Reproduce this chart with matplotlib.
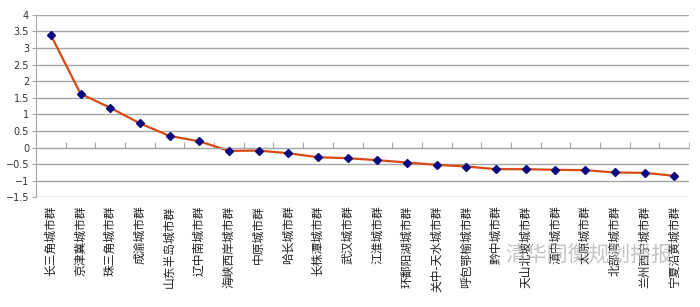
import numpy as np
import matplotlib.pyplot as plt

plt.rcParams['font.family'] = ['Noto Sans CJK SC', 'DejaVu Sans']

# 城市群
clusters = ['长三角城市群', '京津冀城市群', '珠三角城市群', '成渝城市群', '山东半岛城市群',
            '辽中南城市群', '海峡西岸城市群', '中原城市群', '哈长城市群', '长株潭城市群',
            '武汉城市群', '江淮城市群', '环鄱阳湖城市群', '关中-天水城市群', '呼包鄂榆城市群',
            '黔中城市群', '天山北坡城市群', '滇中城市群', '太原城市群', '北部湾城市群',
            '兰州西宁城市群', '宁夏沿黄城市群']
scores = [3.39, 1.62, 1.20, 0.73, 0.35, 0.19, -0.10, -0.09, -0.17, -0.29, -0.32,
          -0.38, -0.45, -0.52, -0.57, -0.65, -0.65, -0.67, -0.68, -0.75, -0.76, -0.85]
yticks = np.arange(-1.5, 4.01, 0.5)

x = np.arange(len(clusters))

fig = plt.figure(figsize=(7, 3.07), dpi=100)
ax = fig.add_axes([0.0514, 0.357, 0.933, 0.595])

for y in yticks:
    ax.axhline(y, color='#a6a6a6', lw=1.0, zorder=0)

ax.plot(x, scores, color='#d84a14', lw=1.6, zorder=2)
ax.plot(x, scores, ls='none', marker='D', ms=4.0, color='#0a0a80', zorder=3)

ax.set_xlim(-0.5, len(clusters) - 0.5)
ax.set_ylim(-1.5, 4)
ax.set_yticks(yticks)
ax.set_yticklabels([('%g' % v).replace('-', '−') for v in yticks], fontsize=7,
                   family='DejaVu Sans', color='#333333')
ax.tick_params(axis='y', length=3, color='#a6a6a6', pad=2)

# 分类轴放在0处，刻度线在类别之间
ax.spines['bottom'].set_position(('data', 0))
ax.spines['bottom'].set_color('#a6a6a6')
ax.spines['left'].set_color('#a6a6a6')
ax.spines['top'].set_visible(False)
ax.spines['right'].set_visible(False)
ax.set_xticks(x[:-1] + 0.5)
ax.set_xticks([len(clusters) - 0.5], minor=True)
ax.tick_params(axis='x', which='both', direction='in', length=4, color='#a6a6a6',
               labelbottom=False)

sec = ax.secondary_xaxis(0)
sec.set_xticks(x)
sec.set_xticklabels(clusters, rotation=90, fontsize=8.5, color='#222222', va='top')
sec.tick_params(length=0, pad=6)
sec.spines['bottom'].set_visible(False)

# 水印
fig.text(0.722, 0.148, '清华同衡规划播报', fontsize=15, color='#b0b0b0', alpha=0.75)

fig.savefig('out.png')
